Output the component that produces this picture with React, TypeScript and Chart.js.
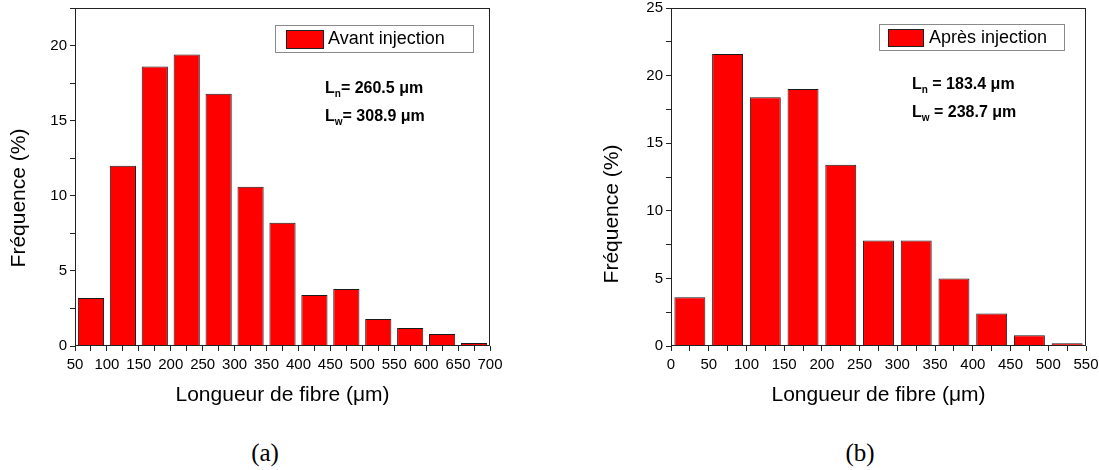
import React, { useEffect, useRef } from "react";
import { Chart, registerables } from "chart.js";

Chart.register(...registerables);
Chart.defaults.font.family = '"Liberation Sans", Arial, sans-serif';
Chart.defaults.color = "#000";

// ---- data ----
const binCentersA = [75, 125, 175, 225, 275, 325, 375, 425, 475, 525, 575, 625, 675];
const freqA = [3.2, 12.0, 18.6, 19.4, 16.8, 10.6, 8.2, 3.4, 3.8, 1.8, 1.2, 0.8, 0.2];
const binCentersB = [25, 75, 125, 175, 225, 275, 325, 375, 425, 475, 525];
const freqB = [3.6, 21.6, 18.4, 19.0, 13.4, 7.8, 7.8, 5.0, 2.4, 0.8, 0.2];
const labelA = "Avant injection";
const labelB = "Après injection";
const statsA = ["260.5", "308.9"];
const statsB = ["183.4", "238.7"];
const xTitle = "Longueur de fibre (μm)";
const yTitle = "Fréquence (%)";
const captionA = "(a)";
const captionB = "(b)";

const FONT = '"Liberation Sans", Arial, sans-serif';

type Props = {
  centers: number[];
  values: number[];
  label: string;
  stats: string[];
  eqSep: string;
  xMin: number;
  xMax: number;
  yMax: number;
  width: number;
  height: number;
  yWidth: number;
  padRight: number;
  yTitle: { x: number; y: number };
  legend: { x: number; y: number; w: number; h: number; sx: number; sw: number; tx: number };
  annot: { x: number; y1: number; y2: number };
};

function makeDecor(p: Props) {
  return {
    id: "decor",
    afterDatasetsDraw(chart: any) {
      const { ctx, chartArea: a } = chart;
      ctx.save();
      // frame
      ctx.strokeStyle = "#222";
      ctx.lineWidth = 1;
      ctx.strokeRect(
        Math.round(a.left) + 0.5,
        Math.round(a.top) + 0.5,
        Math.round(a.right - a.left) - 1,
        Math.round(a.bottom - a.top) - 1
      );
      // y axis title
      ctx.save();
      ctx.translate(p.yTitle.x, p.yTitle.y);
      ctx.rotate(-Math.PI / 2);
      ctx.fillStyle = "#000";
      ctx.font = "21px " + FONT;
      ctx.textAlign = "center";
      ctx.textBaseline = "middle";
      ctx.fillText(yTitle, 0, 0);
      ctx.restore();
      // legend box
      const L = p.legend;
      ctx.fillStyle = "#fff";
      ctx.fillRect(L.x, L.y, L.w, L.h);
      ctx.strokeStyle = "#8a8a8a";
      ctx.strokeRect(L.x + 0.5, L.y + 0.5, L.w, L.h);
      const sh = L.h - 9;
      ctx.fillStyle = "#ff0000";
      ctx.fillRect(L.sx, L.y + 5, L.sw, sh);
      ctx.strokeStyle = "#222";
      ctx.strokeRect(L.sx + 0.5, L.y + 5.5, L.sw, sh);
      ctx.fillStyle = "#000";
      ctx.font = "18px " + FONT;
      ctx.textBaseline = "middle";
      ctx.textAlign = "left";
      ctx.fillText(p.label, L.tx, L.y + L.h / 2 + 1);
      // annotations
      ctx.textBaseline = "alphabetic";
      const subs = ["n", "w"];
      [p.annot.y1, p.annot.y2].forEach((y, i) => {
        let x = p.annot.x;
        ctx.font = "bold 16px " + FONT;
        ctx.fillText("L", x, y);
        x += ctx.measureText("L").width;
        ctx.font = "bold 10px " + FONT;
        ctx.fillText(subs[i], x, y + 4);
        x += ctx.measureText(subs[i]).width;
        ctx.font = "bold 16px " + FONT;
        ctx.fillText(p.eqSep + p.stats[i] + " μm", x, y);
      });
      ctx.restore();
    },
  };
}

function Histogram(p: Props) {
  const ref = useRef<HTMLCanvasElement>(null);
  useEffect(() => {
    if (!ref.current) return;
    const chart = new Chart(ref.current, {
      type: "bar",
      data: {
        datasets: [
          {
            label: p.label,
            data: p.centers.map((c, i) => ({ x: c, y: p.values[i] })),
            backgroundColor: "#ff0000",
            borderColor: "#1a1a1a",
            borderWidth: 1,
            barPercentage: 1.64,
            categoryPercentage: 1,
          },
        ],
      },
      options: {
        responsive: false,
        animation: false,
        layout: { padding: { top: 8, right: p.padRight, left: 0, bottom: 0 } },
        plugins: { legend: { display: false }, tooltip: { enabled: false } },
        scales: {
          x: {
            type: "linear",
            min: p.xMin,
            max: p.xMax,
            offset: false,
            border: { display: false },
            grid: { offset: false, drawOnChartArea: false, drawTicks: true, tickLength: 5, tickColor: "#222" },
            ticks: {
              stepSize: 25,
              autoSkip: false,
              maxRotation: 0,
              minRotation: 0,
              padding: 5,
              font: { size: 15 },
              color: "#000",
              callback: (v: any) => (Number(v) % 50 === 0 ? String(v) : ""),
            },
            title: { display: true, text: xTitle, font: { size: 21 }, color: "#000", padding: { top: 0, bottom: 12 } },
            afterFit: (s: any) => {
              s.height = p.height - 346;
              s.paddingLeft = 0;
              s.paddingRight = 0;
            },
          },
          y: {
            type: "linear",
            min: 0,
            max: p.yMax,
            border: { display: false },
            grid: { drawOnChartArea: false, drawTicks: true, tickLength: 5, tickColor: "#222" },
            ticks: {
              stepSize: 2.5,
              autoSkip: false,
              padding: 3,
              font: { size: 15 },
              color: "#000",
              callback: (v: any) => (Number(v) % 5 === 0 ? String(v) : ""),
            },
            title: { display: false },
            afterFit: (s: any) => {
              s.width = p.yWidth;
              s.paddingTop = 0;
              s.paddingBottom = 0;
            },
          },
        },
      },
      plugins: [makeDecor(p)],
    } as any);
    return () => chart.destroy();
  }, []);
  return <canvas ref={ref} width={p.width} height={p.height} style={{ display: "block" }} />;
}

export default function App() {
  const captionStyle: React.CSSProperties = {
    position: "absolute",
    top: 438,
    width: 60,
    textAlign: "center",
    fontFamily: '"Liberation Serif", "DejaVu Serif", serif',
    fontSize: 25,
    lineHeight: "30px",
    color: "#000",
  };
  return (
    <div style={{ position: "absolute", left: 0, top: 0, width: 1099, height: 470, background: "#fff", overflow: "hidden" }}>
      <div style={{ position: "absolute", left: 0, top: 0 }}>
        <Histogram
          centers={binCentersA}
          values={freqA}
          label={labelA}
          stats={statsA}
          eqSep="= "
          xMin={50}
          xMax={700}
          yMax={22.5}
          width={550}
          height={420}
          yWidth={75}
          padRight={60}
          yTitle={{ x: 19, y: 198 }}
          legend={{ x: 275, y: 25, w: 198, h: 27, sx: 286, sw: 37, tx: 328 }}
          annot={{ x: 325, y1: 93, y2: 121 }}
        />
      </div>
      <div style={{ position: "absolute", left: 590, top: 0 }}>
        <Histogram
          centers={binCentersB}
          values={freqB}
          label={labelB}
          stats={statsB}
          eqSep=" = "
          xMin={0}
          xMax={550}
          yMax={25}
          width={509}
          height={420}
          yWidth={81}
          padRight={13}
          yTitle={{ x: 22, y: 214 }}
          legend={{ x: 289, y: 24, w: 185, h: 26, sx: 298, sw: 35, tx: 339 }}
          annot={{ x: 322, y1: 89, y2: 117 }}
        />
      </div>
      <div style={{ ...captionStyle, left: 235 }}>{captionA}</div>
      <div style={{ ...captionStyle, left: 830 }}>{captionB}</div>
    </div>
  );
}
